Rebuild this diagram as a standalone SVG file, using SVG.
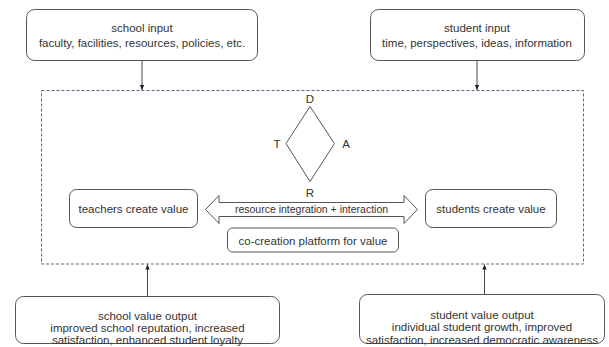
<svg xmlns="http://www.w3.org/2000/svg" width="609" height="347" viewBox="0 0 609 347">
<style>
.box{fill:#fff;stroke:#555;stroke-width:1}
.t{font-family:"Liberation Sans",Arial,sans-serif;font-size:11.5px;fill:#333;text-anchor:middle}
.s{font-size:10.5px}
.c{stroke:#444;stroke-width:1;fill:none}
</style>
<defs>
<marker id="ah" markerWidth="6" markerHeight="6" refX="5" refY="3" orient="auto" markerUnits="userSpaceOnUse">
<path d="M0,0.8 L5,3 L0,5.2 Z" fill="#222"/>
</marker>
</defs>
<rect width="609" height="347" fill="#fff"/>
<g id="platform">
<rect x="41.5" y="90.5" width="542" height="173.5" fill="none" stroke="#5a6688" stroke-width="1" stroke-dasharray="3,2"/>
</g>
<g id="school-input">
<rect class="box" x="26.5" y="9.5" width="231" height="51" rx="8"/>
<text class="t" x="142" y="31.5">school input</text>
<text class="t" x="142" y="47">faculty, facilities, resources, policies, etc.</text>
</g>
<g id="student-input">
<rect class="box" x="370.5" y="9.5" width="214" height="51" rx="8"/>
<text class="t" x="477" y="31.5">student input</text>
<text class="t" x="477" y="47">time, perspectives, ideas, information</text>
</g>
<g id="dart">
<path d="M310,106.5 L334.5,143.5 L310,181.5 L286,143.5 Z" fill="none" stroke="#555"/>
<text class="t" x="310" y="102.5" font-size="12">D</text>
<text class="t" x="277" y="147.5" font-size="12">T</text>
<text class="t" x="346" y="147.5" font-size="12">A</text>
<text class="t" x="310" y="196.5" font-size="12">R</text>
</g>
<g id="teachers">
<rect class="box" x="69.5" y="189.5" width="128" height="38" rx="7"/>
<text class="t" x="133.5" y="212.5">teachers create value</text>
</g>
<g id="students">
<rect class="box" x="425.5" y="189.5" width="131" height="38" rx="7"/>
<text class="t" x="491" y="212.5">students create value</text>
</g>
<g id="interaction">
<path d="M205.5,209.5 L219,195.5 L219,202.5 L404,202.5 L404,195.5 L417.5,209.5 L404,223.5 L404,216.5 L219,216.5 L219,223.5 Z" fill="#fff" stroke="#555"/>
<text class="t s" x="311.5" y="213">resource integration + interaction</text>
</g>
<g id="co-creation">
<rect class="box" x="227.5" y="228" width="171" height="24" rx="5"/>
<text class="t" x="313" y="244.5" font-size="12">co-creation platform for value</text>
</g>
<g id="school-output">
<rect class="box" x="15.5" y="296.5" width="264" height="47" rx="8"/>
<text class="t" x="147.5" y="319.5">school value output</text>
<text class="t" x="147.5" y="331.5">improved school reputation, increased</text>
<text class="t" x="147.5" y="343.5">satisfaction, enhanced student loyalty</text>
</g>
<g id="student-output">
<rect class="box" x="359.5" y="294.5" width="245" height="49" rx="8"/>
<text class="t" x="482" y="318.5">student value output</text>
<text class="t" x="482" y="331">individual student growth, improved</text>
<text class="t" x="482" y="343.5">satisfaction, increased democratic awareness</text>
</g>
<g id="connectors">
<line class="c" x1="142" y1="61" x2="142" y2="90" marker-end="url(#ah)"/>
<line class="c" x1="477" y1="61" x2="477" y2="90" marker-end="url(#ah)"/>
<line class="c" x1="147.5" y1="296" x2="147.5" y2="264.5" marker-end="url(#ah)"/>
<line class="c" x1="484.5" y1="294" x2="484.5" y2="264.5" marker-end="url(#ah)"/>
</g>
</svg>
